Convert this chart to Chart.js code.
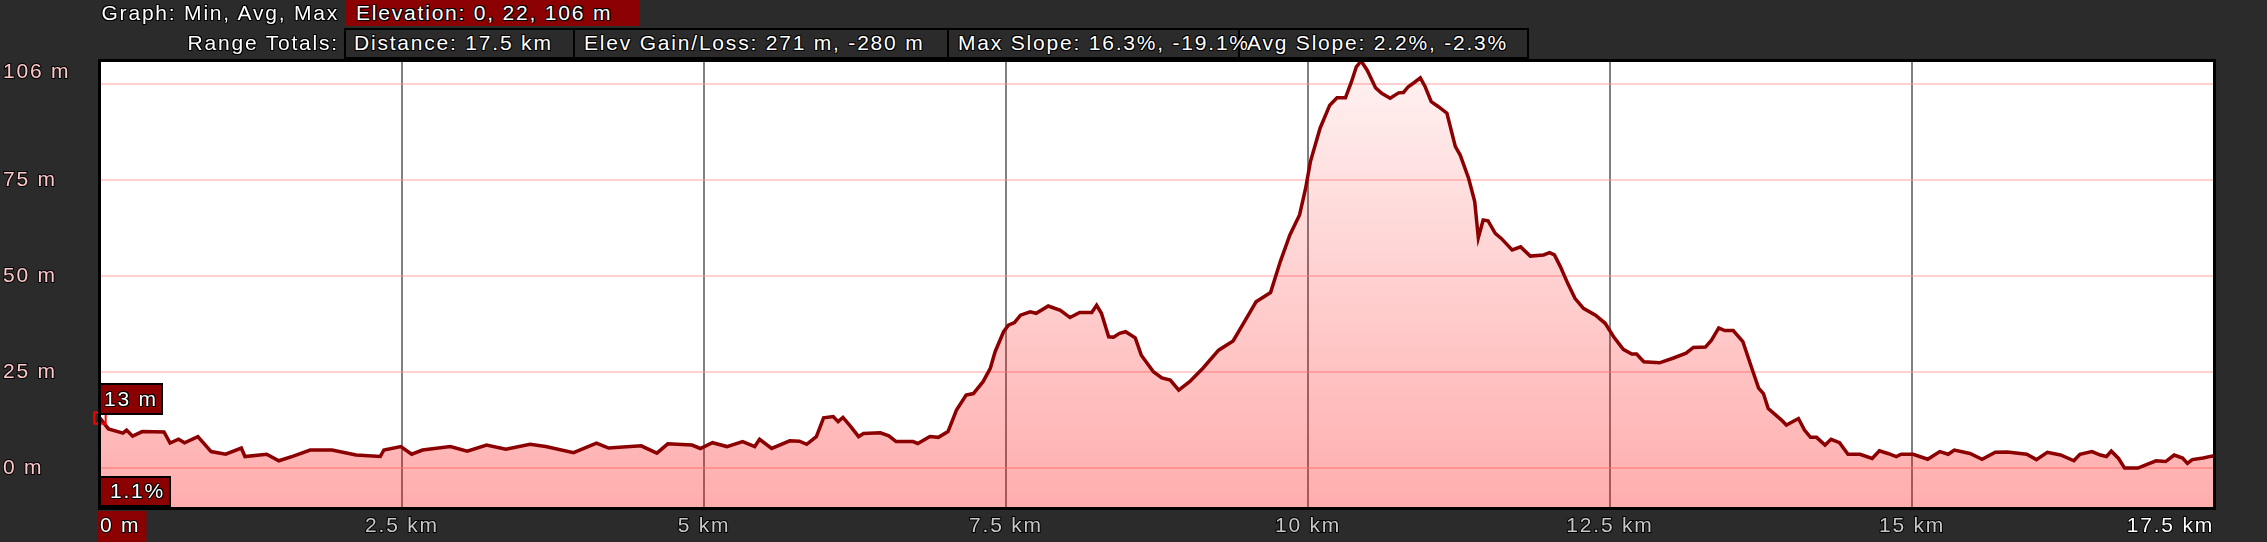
<!DOCTYPE html>
<html>
<head>
<meta charset="utf-8">
<script src="https://cdn.jsdelivr.net/npm/chart.js@4.4.1/dist/chart.umd.min.js"></script>
<style>
  body { margin: 0; background: #2b2b2b; width: 2267px; height: 542px; overflow: hidden; position: relative;
         font-family: 'Liberation Sans', Arial, sans-serif; }
  #chart { position: absolute; left: 0; top: 0; }
  .txt { position: absolute; color: #fff; font-size: 21px; letter-spacing: 1.8px; white-space: nowrap;
         text-shadow: -1px -1px 0 #000, 1px -1px 0 #000, -1px 1px 0 #000, 1px 1px 0 #000; }
  .box { position: absolute; box-sizing: border-box; border: 2px solid #000; background: #2b2b2b; }
  .red { background: #8b0000; }
</style>
</head>
<body>
<canvas id="chart" width="2267" height="542"></canvas>

<!-- header rows -->
<div class="txt" style="right:1928px; top:0; line-height:26px;">Graph: Min, Avg, Max</div>
<div class="box red" style="left:345px; top:0; width:295px; height:26px; border:none;"></div>
<div class="txt" style="left:356px; top:0; line-height:26px;">Elevation: 0, 22, 106 m</div>

<div class="txt" style="right:1928px; top:29px; line-height:28px;">Range Totals:</div>
<div class="box" style="left:344px; top:28px; width:231px; height:31px;"></div>
<div class="box" style="left:573px; top:28px; width:376px; height:31px;"></div>
<div class="box" style="left:947px; top:28px; width:293px; height:31px;"></div>
<div class="box" style="left:1238px; top:28px; width:291px; height:31px;"></div>
<div class="txt" style="left:354px; top:29px; line-height:28px;">Distance: 17.5 km</div>
<div class="txt" style="left:584px; top:29px; line-height:28px;">Elev Gain/Loss: 271 m, -280 m</div>
<div class="txt" style="left:958px; top:29px; line-height:28px;">Max Slope: 16.3%, -19.1%</div>
<div class="txt" style="left:1247px; top:29px; line-height:28px;">Avg Slope: 2.2%, -2.3%</div>

<!-- cursor readouts -->
<div class="box red" style="left:99px; top:383px; width:64px; height:32px;"></div>
<div class="txt" style="left:104px; top:385px; line-height:28px;">13 m</div>
<div class="box red" style="left:99px; top:476px; width:72px; height:31px;"></div>
<div class="txt" style="left:110px; top:477px; line-height:28px;">1.1%</div>

<script>
// distance along the route (km) and elevation (m)
const distKm = [
  0, 0.07, 0.19, 0.22, 0.27, 0.35, 0.53, 0.58, 0.65, 0.70, 0.81, 0.92, 1.04, 1.17, 1.20, 1.38, 1.48, 1.60,
  1.74, 1.92, 2.12, 2.32, 2.35, 2.49, 2.58, 2.67, 2.90, 3.04, 3.20, 3.36, 3.56, 3.69, 3.92, 4.11, 4.21, 4.48,
  4.61, 4.70, 4.90, 4.97, 5.07, 5.19, 5.32, 5.42, 5.46, 5.56, 5.71, 5.79, 5.85, 5.93, 5.99, 6.07, 6.11, 6.15,
  6.21, 6.28, 6.32, 6.46, 6.53, 6.59, 6.73, 6.77, 6.87, 6.94, 7.02, 7.09, 7.17, 7.23, 7.31, 7.37, 7.41, 7.48,
  7.52, 7.57, 7.62, 7.70, 7.75, 7.85, 7.95, 8.03, 8.11, 8.21, 8.25, 8.29, 8.35, 8.39, 8.44, 8.49, 8.57, 8.62,
  8.72, 8.79, 8.86, 8.93, 9.02, 9.13, 9.26, 9.38, 9.49, 9.57, 9.69, 9.77, 9.85, 9.93, 9.98, 10.02, 10.10,
  10.18, 10.24, 10.31, 10.36, 10.40, 10.44, 10.49, 10.56, 10.61, 10.68, 10.75, 10.79, 10.83, 10.88, 10.93,
  10.97, 11.02, 11.08, 11.15, 11.22, 11.26, 11.33, 11.38, 11.41, 11.45, 11.49, 11.55, 11.60, 11.69, 11.76,
  11.84, 11.95, 12.00, 12.04, 12.09, 12.15, 12.21, 12.28, 12.38, 12.46, 12.53, 12.61, 12.68, 12.72, 12.78,
  12.91, 13.02, 13.13, 13.19, 13.29, 13.34, 13.40, 13.45, 13.52, 13.60, 13.66, 13.73, 13.77, 13.81, 13.92,
  13.96, 14.06, 14.11, 14.16, 14.21, 14.28, 14.33, 14.40, 14.47, 14.57, 14.67, 14.73, 14.80, 14.87, 14.91,
  15.01, 15.13, 15.23, 15.30, 15.35, 15.48, 15.58, 15.69, 15.79, 15.95, 16.03, 16.12, 16.23, 16.34, 16.39,
  16.49, 16.56, 16.61, 16.65, 16.71, 16.76, 16.87, 16.91, 17.02, 17.10, 17.17, 17.24, 17.28, 17.32, 17.41,
  17.48, 17.5
];
const elevM = [
  13, 10.2, 9.1, 9.9, 8.3, 9.5, 9.4, 6.5, 7.5, 6.6, 8.2, 4.3, 3.6, 5.2, 3.0, 3.6, 1.9, 3.1,
  4.7, 4.7, 3.4, 3.0, 4.7, 5.6, 3.6, 4.7, 5.6, 4.4, 6.0, 4.9, 6.2, 5.6, 4.0, 6.5, 5.2, 5.8,
  3.9, 6.3, 6.0, 5.1, 6.6, 5.6, 6.9, 5.6, 7.5, 5.1, 7.1, 7.0, 6.2, 8.2, 13.1, 13.4, 12.1, 13.2,
  11.0, 8.2, 9.0, 9.2, 8.4, 6.9, 6.9, 6.4, 8.2, 8.0, 9.5, 15.1, 19.0, 19.4, 22.5, 26.0, 30.3, 35.5,
  37.2, 37.9, 39.8, 40.7, 40.3, 42.2, 41.1, 39.2, 40.5, 40.5, 42.4, 40.3, 34.2, 34.1, 35.1, 35.5, 33.9, 29.4,
  25.1, 23.5, 22.9, 20.3, 22.5, 26.0, 30.7, 33.1, 39.0, 43.3, 45.7, 53.7, 60.7, 65.9, 72.8, 79.8, 88.5,
  94.5, 96.4, 96.4, 100.6, 104.5, 106, 103.6, 99.0, 97.6, 96.3, 97.7, 97.8, 99.3, 100.4, 101.6,
  99.3, 95.4, 94.1, 92.4, 83.7, 81.5, 75.4, 69.4, 60.0, 64.6, 64.4, 61.1, 59.8, 56.8, 57.6,
  55.2, 55.5, 56.1, 55.5, 52.4, 48.1, 44.2, 41.6, 39.8, 37.7, 34.2, 30.9, 29.7, 29.7, 27.7,
  27.4, 28.6, 29.9, 31.4, 31.5, 33.3, 36.5, 35.8, 35.8, 32.9, 27.3, 20.8, 19.4, 15.5, 12.5,
  11.2, 12.9, 9.9, 8.0, 8.0, 6.0, 7.5, 6.6, 3.6, 3.6, 2.5, 4.5, 3.8, 3.0, 3.6,
  3.6, 2.3, 4.3, 3.6, 4.7, 3.8, 2.3, 4.1, 4.2, 3.6, 2.2, 4.1, 3.4, 1.9, 3.6,
  4.3, 3.4, 3.0, 4.4, 2.5, 0, 0, 0.5, 1.9, 1.7, 3.4, 2.6, 1.2, 2.2, 2.6,
  3.1, 3.2
];

// axis ticks
const yGridValues = [0, 25, 50, 75, 100];
const yLabels = { 0: '0 m', 25: '25 m', 50: '50 m', 75: '75 m', 103: '106 m' };
const yLabelOnly = 103;
const xTickStep = 2.5;

const FONT = { family: "'Liberation Sans', Arial, sans-serif", size: 21 };

const points = distKm.map((d, i) => ({ x: d, y: elevM[i] }));

const spacing = {
    id: 'spacing',
    beforeUpdate(chart) { chart.ctx.letterSpacing = '1.8px'; },
    beforeDraw(chart) { chart.ctx.letterSpacing = '1.8px'; }
};

const frame = {
    id: 'frame',
    beforeDraw(chart) {
        const { ctx, chartArea: a } = chart;
        ctx.save();
        ctx.fillStyle = '#2b2b2b';
        ctx.fillRect(0, 0, chart.width, chart.height);
        ctx.fillStyle = '#ffffff';
        ctx.fillRect(a.left, a.top, a.right - a.left, a.bottom - a.top);
        ctx.restore();
    },
    afterDraw(chart) {
        const { ctx, chartArea: a } = chart;
        ctx.save();
        ctx.strokeStyle = '#000';
        ctx.lineWidth = 3;
        ctx.strokeRect(a.left - 0.5, a.top - 0.5, a.right - a.left + 1, a.bottom - a.top + 1);
        ctx.restore();
    }
};

new Chart(document.getElementById('chart'), {
    type: 'line',
    data: {
        datasets: [{
            data: points,
            borderColor: '#8b0000',
            borderWidth: 3.5,
            tension: 0,
            fill: 'start',
            clip: false,
            backgroundColor: function (ctx) {
                const a = ctx.chart.chartArea;
                if (!a) return 'rgba(255,0,0,0.2)';
                const g = ctx.chart.ctx.createLinearGradient(0, a.top, 0, a.bottom);
                g.addColorStop(0, 'rgba(255,0,0,0.05)');
                g.addColorStop(1, 'rgba(255,0,0,0.32)');
                return g;
            },
            pointStyle: 'rect',
            pointRadius: ctx => ctx.dataIndex === 0 ? 8 : 0,
            pointBorderColor: '#ff0000',
            pointBackgroundColor: 'rgba(0,0,0,0)',
            pointBorderWidth: 2
        }]
    },
    options: {
        responsive: false,
        animation: false,
        layout: { padding: { left: 3, top: 61, right: 53, bottom: 0 } },
        plugins: { legend: { display: false }, tooltip: { enabled: false } },
        scales: {
            x: {
                type: 'linear',
                min: 0,
                max: 17.5,
                afterFit: s => { s.height = 34; },
                border: { display: false },
                grid: {
                    drawTicks: false,
                    lineWidth: 2,
                    color: ctx => (ctx.tick && (ctx.tick.value === 0 || ctx.tick.value === 17.5)) ? 'rgba(0,0,0,0)' : '#808080'
                },
                ticks: {
                    stepSize: xTickStep,
                    autoSkip: false,
                    maxRotation: 0,
                    align: 'inner',
                    padding: 6,
                    font: FONT,
                    color: ctx => (ctx.tick.value === 0 || ctx.tick.value === 17.5) ? '#ffffff' : '#c8c8c8',
                    textStrokeColor: '#000',
                    textStrokeWidth: 2,
                    showLabelBackdrop: true,
                    backdropColor: ctx => ctx.tick.value === 0 ? '#8b0000' : 'rgba(0,0,0,0)',
                    backdropPadding: { left: 2, right: 6, top: 3, bottom: 3 },
                    callback: v => v === 0 ? '0 m' : v + ' km'
                }
            },
            y: {
                min: -10.4,
                max: 106,
                afterFit: s => { s.width = 97; },
                afterBuildTicks: s => {
                    s.ticks = yGridValues.concat([yLabelOnly]).map(v => ({ value: v }));
                },
                border: { display: false },
                grid: {
                    drawTicks: false,
                    lineWidth: 2,
                    color: ctx => (ctx.tick && ctx.tick.value === yLabelOnly) ? 'rgba(0,0,0,0)' : 'rgba(255,150,150,0.45)'
                },
                ticks: {
                    crossAlign: 'far',
                    font: FONT,
                    color: '#ffc8c8',
                    textStrokeColor: '#000',
                    textStrokeWidth: 2,
                    callback: v => yLabels[v] || ''
                }
            }
        }
    },
    plugins: [spacing, frame]
});
</script>
</body>
</html>
